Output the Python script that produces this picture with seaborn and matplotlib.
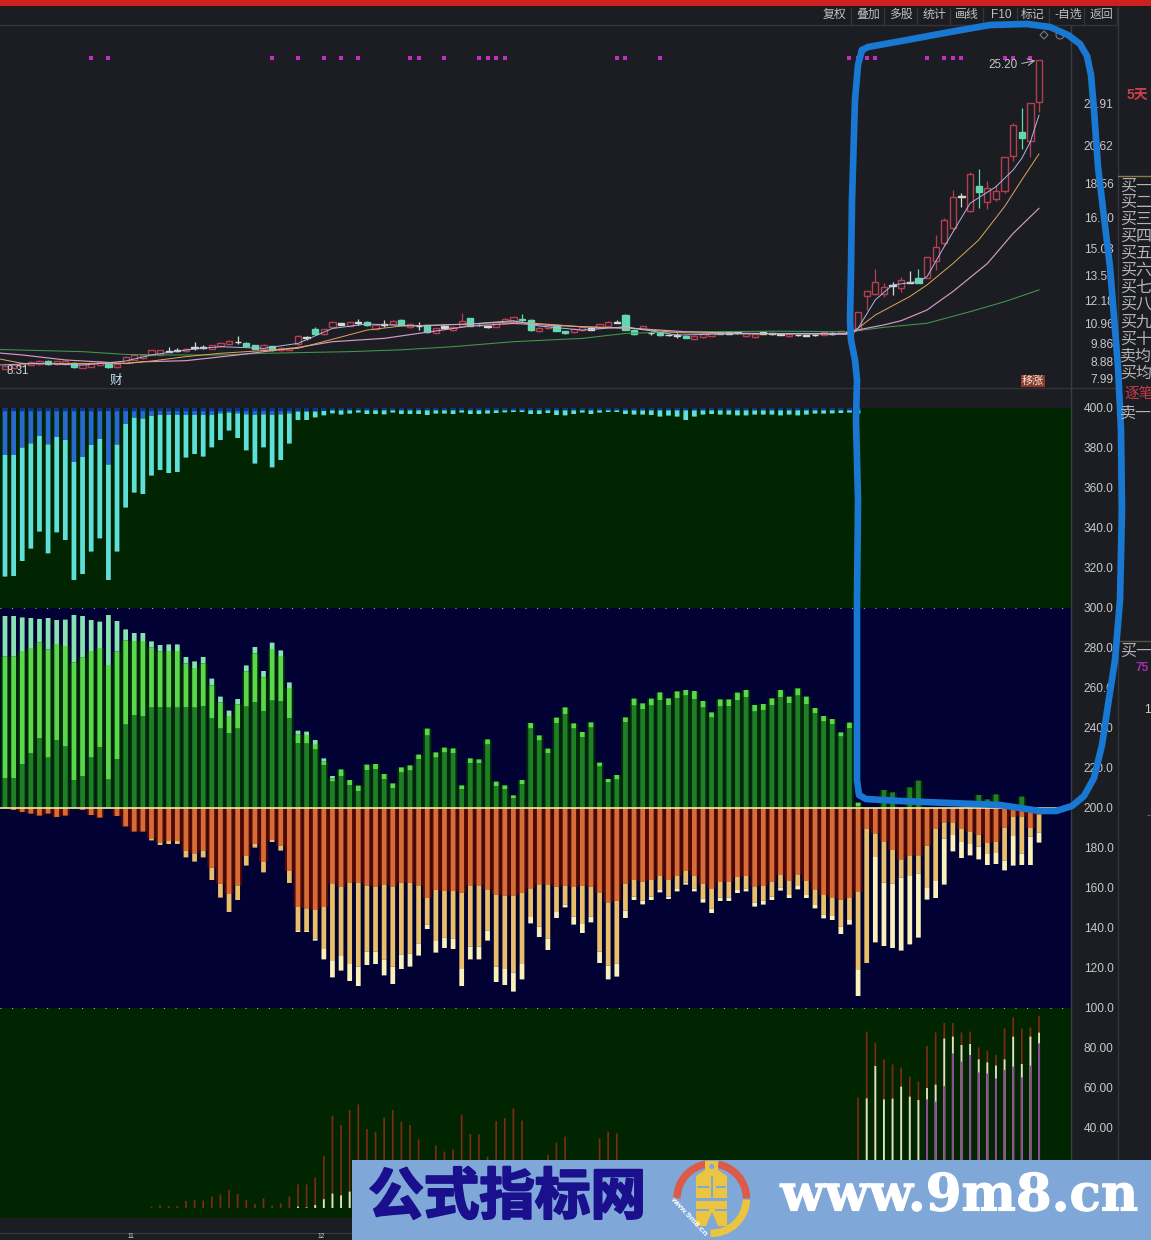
import matplotlib
matplotlib.use("Agg")
import numpy as np
import seaborn as sns
import matplotlib.pyplot as plt
from matplotlib.patches import Rectangle, Wedge, Polygon, Circle
import matplotlib.patheffects as pe

# ---------- data ----------
n_bars = 121
idx = np.arange(n_bars)

# price panel: early small candles (mid price, half body, kind)
early_mid = [8.57,8.60,8.73,8.78,8.82,8.82,8.82,8.82,8.69,8.64,8.69,8.78,8.66,8.66,8.97,9.11,9.15,9.38,9.38,9.44,
 9.47,9.51,9.63,9.63,9.67,9.81,9.91,9.94,9.81,9.67,9.69,9.60,9.56,9.58,10.05,10.18,10.50,10.50,10.90,10.92,
 10.92,10.99,10.95,10.77,10.90,10.99,11.01,10.85,10.81,10.66,10.57,10.76,10.68,10.95,11.03,10.86,10.77,10.90,11.08,11.15,
 11.17,10.86,10.63,10.77,10.70,10.47,10.56,10.68,10.66,10.81,10.92,11.01,11.01,10.48,10.72,10.43,10.36,10.32,10.30,10.23,
 10.18,10.29,10.39,10.45,10.43,10.45,10.34,10.29,10.43,10.39,10.36,10.32,10.32,10.30,10.32,10.41,10.41,10.48,10.48]
early_half = [.08,.08,.08,.08,.09,.09,.08,.09,.12,.09,
 .09,.08,.1,.08,.16,.14,.09,.12,.12,.02,
 .02,.07,.02,.02,.09,.09,.1,.02,.1,.1,
 .1,.1,.06,.06,.22,.02,.14,.14,.13,.03,
 .1,.03,.1,.1,.03,.09,.13,.09,.02,.2,
 .12,.06,.1,.13,.2,.02,.02,.12,.09,.13,
 .04,.29,.09,.09,.15,.05,.09,.1,.06,.1,
 .12,.02,.41,.12,.08,.02,.05,.02,.02,.05,
 .1,.1,.12,.05,.03,.03,.08,.08,.04,.03,
 .02,.07,.02,.02,.02,.07,.03,.07,.03]
early_wick_up = {19:.2,20:.12,22:.29,23:.15,27:.3,35:.05,36:.1,41:.15,44:.2,48:.2,53:.45,58:.1,60:.25,71:.1,75:.1,78:.1}
early_wick_dn = {22:.1,27:.08,35:.1,41:.1,44:.1,48:.2,60:.12,75:.1,78:.1}
candle_kinds = ("uuuuuduudu" "uuduuuuuux" "xuxxuuuxdd" "uduuuxduux" "uxduxuduxd"
                "uxuudxxuuu" "dduudduuxu" "uxdduxdxxd" "uuudxxuuxx" "xuxxxuxux"
                "uuuuxuxduuuuxuduuuuduu")
# price panel: the last 22 candles
late_body_top = [11.59,12.73,13.22,12.95,13.04,13.31,13.20,13.40,14.58,15.08,16.57,17.79,17.87,19.06,18.41,18.28,18.16,19.96,21.70,21.32,22.93,25.25]
late_body_bot = [10.60,12.44,12.55,12.55,12.98,12.86,13.15,13.17,13.44,14.36,15.30,16.15,17.81,17.07,18.10,17.52,17.69,18.16,20.06,20.99,20.85,22.97]
late_high = [11.59,12.73,13.89,13.17,13.22,13.49,13.82,13.89,14.58,15.75,16.66,18.19,18.05,19.15,19.31,18.70,18.46,19.96,21.85,22.62,22.93,25.25]
late_low = [10.60,11.68,12.50,12.37,12.50,12.68,13.13,13.13,13.44,13.85,15.17,16.02,17.25,17.02,17.20,17.14,17.61,18.05,19.77,20.40,19.96,22.41]

# moving averages, read at the bars listed
ma60_i = [-1,9,14,19,25,30,40,46,52,59,67,72,79,90,98,102,107,112,116,120]
ma60_v = [9.54,9.42,9.27,9.24,9.24,9.33,9.42,9.52,9.69,9.96,10.14,10.41,10.50,10.53,10.50,10.74,10.96,11.59,12.13,12.77]
ma20_i = [-1,2,7,14,16,21,27,34,38,44,48,54,59,67,73,79,86,98,99,102,104,107,110,114,117,120]
ma20_v = [9.36,9.24,8.97,8.78,8.87,8.93,9.24,9.65,9.96,10.14,10.41,10.81,10.95,10.77,10.68,10.50,10.41,10.36,10.60,10.87,11.10,11.68,12.68,14.20,15.84,17.20]
ma10_i = [-1,2,14,17,21,25,34,38,42,46,54,59,67,73,78,86,98,99,101,105,107,110,113,116,118,120]
ma10_v = [9.06,8.78,8.78,8.91,9.15,9.33,9.60,10.09,10.59,10.81,10.92,11.04,10.77,10.68,10.45,10.38,10.41,10.69,11.41,12.41,13.04,14.20,15.48,17.29,18.74,20.15]
ma5_i = [-1,4,9,14,17,21,25,30,34,38,42,48,54,59,62,67,72,78,86,98,99,101,103,106,107,109,112,115,117,118,119,120]
ma5_v = [8.69,8.78,8.69,8.91,9.24,9.51,9.69,9.60,9.87,10.68,10.92,10.81,10.92,11.10,10.81,10.59,10.77,10.32,10.41,10.41,10.69,12.23,13.04,13.22,13.49,15.12,17.47,18.37,19.28,19.91,20.81,22.26]
signal_i = [10,12,31,34,37,39,41,47,48,51,55,56,57,58,71,72,76,98,99,100,101,107,109,110,111,116,117,119]
signal_level = 25.35

# upper indicator (hangs from 400)
blue_end = [376.5,376.5,380.2,382.3,386,381.8,385.5,384,373,375.5,381.5,384.5,371.7,381.7,392,395.2,394.7,396,396.5,396.5,
 396.5,396.5,396.5,396.5,396.5,397.3,397.7,397.3,396.8,396.5,396.8,396.5,396.8,397.3,398.2,398.2,398.2,398.5]
cyan_end = [315.7,316,323.5,329.7,338.2,327.3,337.8,334,314,317,328.2,334.8,314,328.2,350.2,357.7,357,366.2,369,367.5,
 368,375.2,377,375.7,380.3,384,388.7,385,378.8,372.2,380.3,370.3,374,382.2,394,394,395.3,396.3,397.3,396.7,397.2,
 397.7,397,397,396.8,397.7,397,397,397,396.5,397.2,397.2,397,397.7,397,397,397.2,397.5,397.8,398,398,
 397,397,397.5,396.5,396.3,397,397.7,397,397.7,398,398,397,396.7,396.7,396.5,395.7,396.2,395.7,394,395.7,
 396.7,397,396.7,396.7,396.3,396.3,396.7,396.7,396.7,396.3,396.7,396.3,396.7,397.2,397.2,397.3,397.5,397.7,397.3]

# middle indicator, upper half (green)
green_top = [296,296,295.3,295,294.5,295,294,294.2,296.5,296,294,293.2,296.5,293.5,289.3,287.5,287.5,283.3,281.5,281.8,
 281.8,275.5,273.3,275.5,264.7,255.7,248.7,254.5,271.3,280.5,268.5,282.7,278.8,262.8,238.7,238.2,234,224.8,216,
 219.3,214,211.2,221.7,222,217,212.3,220.3,221.3,226.7,239.7,227.8,230.2,229.8,211.3,224.8,224.3,234.3,213.2,211.3,206.3,
 214,242.5,236.3,229.7,245.2,250.3,242.3,238,242.8,222.7,214.5,216.5,245.3,254.7,252.3,254.7,257.8,254.8,258.3,259,
 258.5,253.5,247.8,254.3,254.3,257.7,259,251.5,252,254.8,259,255.7,259.8,255.7,250,246,244.5,237.8,242.7,202.7,
 200,200,209,207.8,200,210.3,213.7,200,200,200,200,200,200,206.5,204.3,206.8,200,200,205.7,200,200]
mint_end = [275.7,275.7,278.5,280,282.7,279.3,282,281,272.7,275.2,278.5,280,271.5,278.2,283.8,283.5,283.5,280.2,278.2,278.5,
 278.5,272.3,270,272.3,261.3,252.8,246,251.8,268.2,277.3,265.2,279.5,276,260,236.7,236.5,232,223.2,214.8] + green_top[39:]
bright_end = [215,215,222,227.5,235,225.2,234,230.7,214,216,225.2,230.3,214.2,224.5,241.7,246.5,246,250.2,250.5,250.2,
 250.2,250.5,250.2,250.8,245,239.7,237.3,239.7,250.7,253,248.5,253.7,253.5,245,232.5,232.2,229.2,221.3,213.2,
 216,211.3,208.5,219,219.3,214.3,209.8,217.7,218.7,224.3,236.2,225.2,227.7,227.3,209.3,222.3,222.3,231.7,210.8,209.5,205,
 212,239.7,233.7,227.3,242.5,246.8,239.7,235.5,240.2,220.7,212.7,214.2,243,251.2,249.3,251.2,254,251.5,254.8,256.2,
 254.5,250.2,245.2,250.7,251,254,255.3,248.2,249,251.5,255.3,252.3,256.2,252,247.3,243.2,242,235.7,239.8,201] + green_top[100:]

# middle indicator, lower half (orange)
orange_end = [199.8,199,198,197.2,196.2,197.2,195.5,196.2,199.8,199,196.5,195.2,199.8,196,190.8,188.2,188.2,184.8,182.8,183.5,
 183.5,178.7,177.3,178.7,170.2,162.2,157,161.3,176,182,173.2,184,181,168.5,150.5,149.8,149,150.5,162.3,
 160.7,162.7,162.7,161.2,160.7,161.8,160.8,162.7,162.7,161.3,155,159,158.5,158.5,157.7,161.3,161.3,159.3,156.7,156.2,156.2,
 157.5,159.8,161.8,161.8,160.7,161.2,160.5,161.2,160.7,157.5,152.8,153.7,162.2,164,163.2,164,166,164,166,168.5,
 166.2,162.2,159.8,163,163,165.5,166,160.8,161.2,163.2,166.5,163.5,166.8,163.5,159.3,156.5,155.3,154.2,155,158,
 189.5,187.3,183.3,179,174.3,176.3,176.3,181.2,189.7,192.8,192.8,189.5,188,186.7,182.5,183,190.2,195.7,195.7,190,196.5]
yellow_end = orange_end[:17] + [183.8,181.5,182,182,175.3,173.2,175.3,164,155.2,148,154,171.2,180.2,167.8,183,178.7,162.5,138.5,138.5,134.8,129.5,123.5,
 126,122,120.7,128.2,128.2,124.3,120.7,126.8,127.3,132.3,141.8,133.5,135.3,134.8,119.5,130.7,130.7,138.7,120.7,119.5,117.8,
 122,145.5,140.7,134.8,148,151.8,145.7,142,145.7,128.2,121.2,122.3,148.7,155.7,153.7,155.7,159,155.7,159.5,162.7,
 159.8,154.8,149.8,155.3,155.3,159,159.8,152.8,153.7,155.7,160.3,156.5,161,156.5,151.5,146.8,146,140.7,144,119,
 122.5,175.5,162.7,162.2,165.2,166,167.3,160,163.5,184.7,186.5,183,182,180.7,177,177.5,173.8,186,177.3,185.7,187.7]
pale_end = yellow_end[:34] + [138,138,133.7,124.3,115.3,
 118.7,113.5,111,121.5,122,116.3,112,119.5,120.7,126.2,139.5,127.7,130,129.5,111,124.3,124.3,133.7,113,111.5,108.2,
 114.3,142.3,135.5,129,145,150.3,141.7,137.5,142.8,122.5,114.3,115.7,145,154,151.8,154,157.8,154.5,158.3,161.7,
 158.3,152.7,147.5,153.5,153.5,157.5,158.3,150.7,151.7,154,158.7,155,159.3,155,149.8,144.8,144,137,141.7,106,
 122.5,132.8,131,130,128.7,131.8,135.2,154.2,155,161.7,178.3,175,176.3,174.3,171.5,172,168.8,171.2,171.5,171.5,182.7]

# lower indicator (thin lines from 0)
red_top = [0]*17 + [.7,1.5,1,1,3.5,4,3.7,5.7,6.8,9,7,4,2,4.8,1.3,2.3,5.7,11.8,11.8,15.2,26,46.2,41.5,49,51.8,39.5,38.2,45.2,49,43.2,41.5,34.3,
 22,31.3,28.2,29.3,46.7,37,36.8,25.7,43.5,45,49.7,43.7,22,20,26.5,32.7,35.7,20,18,20,34.8,38.2,37.3,
 18,16,15,14,15,16,18,17,15,14,13,14,15,16,14,12,13,15,16,14,12,11,13,14,12,11,12,
 55.2,88.2,82.7,74.3,71.8,70.2,65.7,63.2,81,87.8,92.5,92.5,87.8,88.2,80.3,78.7,76.5,89.8,95.3,89.7,90.3,96]
pale_top = [0]*34 + [.7,.3,1.5,4.4,7.2,6.3,8.2,6,5,7,6,5,6,5,4,5,4,4,5,6,5,4,4,5,5,6,5,5,4,4,4,5,4,4,4,4,5,4,4,4,3,3,4,4,3,3,3,4,4,3,3,3,3,3,3,3,3,3,3,3,3,3,3,3,3,0,
 54.8,71,54.3,54.7,60.7,55.7,54,60,61.7,84.7,85.7,81.5,82,74.3,72.8,71.2,74.3,85.7,72,85.7,87.7]
purple_top = [0]*107 + [54.3,53.2,61,77.3,73.2,76.5,67.8,67.3,64.8,69,70.7,65.3,71.2,82.3]

price_ticks = [22.91,20.62,18.56,16.70,15.03,13.53,12.18,10.96,9.86,8.88,7.99]
price_tick_labels = ["22.91","20.62","18.56","16.70","15.03","13.53","12.18","10.96","9.86","8.88","7.99"]
ind_ticks = [400,380,360,340,320,300,280,260,240,220,200,180,160,140,120,100,80,60,40]
ind_tick_labels = ["400.0","380.0","360.0","340.0","320.0","300.0","280.0","260.0","240.0","220.0","200.0","180.0","160.0","140.0","120.0","100.0","80.00","60.00","40.00"]
toolbar_labels = ["复权","叠加","多股","统计","画线","F10","标记","-自选","返回"]
toolbar_x = [835,868,901,934,967,1001,1033,1068,1101]
side_labels = ["买一","买二","买三","买四","买五","买六","买七","买八","买九","买十","卖均","买均"]
side_y = [186,202,219,236,253,270,287,304,322,339,356,373]
stroke_x = [862,868,907,950,990,1027,1050,1068,1080,1087,1091,1094,1098,1110,1118,1121,1122,1120,1115,1108,1102,1094,1084,1072,1056,1040,1000,950,900,866,859,857,857,858,856,857,855,851,850,851,852,855,858,862]
stroke_y = [50,47,40,32,25,24,27,35,44,56,75,110,167,267,367,430,510,600,660,705,745,778,796,806,811,811,805,803,801,799,795,780,600,500,420,380,360,340,320,270,200,100,65,50]

assert len(early_mid) == 99 and len(early_half) == 99 and len(candle_kinds) == 121
assert len(cyan_end) == 100, len(cyan_end)
for name, arr in dict(gt=green_top, me=mint_end, be=bright_end, oe=orange_end, ye=yellow_end, pe=pale_end,
                      rt=red_top, pt=pale_top, pu=purple_top).items():
    assert len(arr) == 121, (name, len(arr))

# ---------- style ----------
sns.set_theme(style="dark")
plt.rcParams["font.family"] = ["Liberation Sans", "Noto Sans CJK SC", "DejaVu Sans"]
BG = "#1c1d22"
DARK_GREEN = "#012401"
NAVY = "#010133"
W, H = 1151, 1240
fig = plt.figure(figsize=(W / 100, H / 100), dpi=100, facecolor=BG)

def px_axes(x0, y0, x1, y1, **kw):
    return fig.add_axes([x0 / W, 1 - y1 / H, (x1 - x0) / W, (y1 - y0) / H], **kw)

spacing = 8.617
xlim = (-5 / spacing, (1071 - 5) / spacing)

def bars(ax, x, top, bottom, color, width=0.55, **kw):
    top = np.asarray(top, float); bottom = np.asarray(bottom, float)
    sns.barplot(x=x, y=top - bottom, bottom=bottom, color=color, width=width, saturation=1,
                native_scale=True, errorbar=None, legend=False, linewidth=0, ax=ax, **kw)

def style_axis(ax, ticks, labels):
    ax.set_facecolor(BG)
    ax.set_xlim(*xlim)
    ax.set_xticks([])
    ax.set_xlabel(""); ax.set_ylabel("")
    ax.yaxis.tick_right()
    ax.set_yticks(ticks)
    ax.set_yticklabels(labels, ha="right", color="#c8c8c8", fontsize=8.6)
    ax.tick_params(axis="y", length=0, pad=30.5)
    for s in ax.spines.values():
        s.set_visible(False)
    ax.grid(False)

# ---------- price panel ----------
ax_p = px_axes(0, 25, 1071, 388)
ax_p.set_facecolor(BG)
UP, DOWN, DOJI = "#b4404f", "#62d8b0", "#d4dcd0"
early_mid_a = np.array(early_mid); early_half_a = np.array(early_half)
body_hi = np.r_[early_mid_a + early_half_a, late_body_top]
body_lo = np.r_[early_mid_a - early_half_a, late_body_bot]
wick_hi = np.r_[[early_mid[i] + early_half[i] + early_wick_up.get(i, .03) for i in range(99)], late_high]
wick_lo = np.r_[[early_mid[i] - early_half[i] - early_wick_dn.get(i, .03) for i in range(99)], late_low]
col_of = {"u": UP, "d": DOWN, "x": DOJI}
ax_p.vlines(idx, wick_lo, wick_hi, colors=[col_of[k] for k in candle_kinds], linewidth=0.9, zorder=1.5)
n0 = len(ax_p.patches)
bars(ax_p, idx, body_hi, body_lo, BG, width=0.72)
for patch, k in zip(ax_p.patches[n0:], candle_kinds):
    patch.set_zorder(2)
    patch.set_edgecolor(col_of[k]); patch.set_linewidth(1.0)
    patch.set_facecolor(BG if k == "u" else col_of[k])
for xs, ys, c, lw in [(ma60_i, ma60_v, "#3f9a4c", 0.75), (ma20_i, ma20_v, "#d59ac8", 0.85),
                      (ma10_i, ma10_v, "#dfa658", 0.7), (ma5_i, ma5_v, "#aeb6e8", 0.7)]:
    sns.lineplot(x=xs, y=ys, color=c, linewidth=lw, errorbar=None, legend=False, ax=ax_p, zorder=3)
sns.scatterplot(x=signal_i, y=[signal_level] * len(signal_i), color="#c02fc0", marker="s", s=5,
                linewidth=0, legend=False, ax=ax_p, zorder=3)
style_axis(ax_p, price_ticks, price_tick_labels)
ax_p.set_ylim(7.99 + (378 - 388) / 18.43, 7.99 + (378 - 25) / 18.43)

# ---------- indicator panels ----------
ax_i = px_axes(0, 388, 1071, 1218)
ax_i.set_facecolor(BG)
ax_i.axhspan(300, 400, color=DARK_GREEN, lw=0, zorder=0)
ax_i.axhspan(100, 300, color=NAVY, lw=0, zorder=0)
ax_i.axhspan(-5, 100, color=DARK_GREEN, lw=0, zorder=0)

i100 = np.arange(100)
bars(ax_i, i100, [400] * 100, blue_end + [398.8] * 62, "#2a68cf")
bars(ax_i, i100, [400] * 38 + [400] * 62, [398.4] * 38 + [398.8] * 62, "#0f2f9c")
bars(ax_i, i100, blue_end + [398.8] * 62, cyan_end, "#5ee0d8")

bars(ax_i, idx, mint_end, [200] * 121, "#03290a", width=1.0)
bars(ax_i, idx, orange_end, [200] * 121, "#520a04", width=1.0)
bars(ax_i, idx, green_top, mint_end, "#86e2b0")
bars(ax_i, idx, mint_end, bright_end, "#58d84a")
bars(ax_i, idx, bright_end, [200] * 121, "#1f7f26")
bars(ax_i, idx, orange_end, [200] * 121, "#d66c38")
bars(ax_i, idx, yellow_end, orange_end, "#e8bf68")
bars(ax_i, idx, pale_end, yellow_end, "#f8f1bb")

bars(ax_i, idx, red_top, [0] * 121, "#7c2c10", width=0.2)
bars(ax_i, idx, pale_top, [0] * 121, "#d4e4bc", width=0.22)
bars(ax_i, idx, purple_top, [0] * 121, "#8a4c92", width=0.24)
for patch in ax_i.patches:
    patch.set_snap(False)

style_axis(ax_i, ind_ticks, ind_tick_labels)
ax_i.set_facecolor(BG)
ax_i.set_ylim(200 + (808 - 1218) / 2, 200 + (808 - 388) / 2)
ax_i.hlines([300, 100], *xlim, colors="#c8c8c8", linewidth=0.7, linestyles=[(0, (1, 11))], zorder=4)
ax_i.hlines([200], *xlim, colors="#f2eaa8", linewidth=1.2, zorder=4)

# ---------- overlay in pixel space ----------
ov = fig.add_axes([0, 0, 1, 1], zorder=5)
ov.set_xlim(0, W); ov.set_ylim(H, 0); ov.axis("off"); ov.patch.set_alpha(0)

ov.add_patch(Rectangle((0, 0), W, 6, color="#cf2020", lw=0))
ov.plot([0, 1118], [24.5, 24.5], color="#34353a", lw=1)
ov.plot([0, 1118], [388, 388], color="#34353a", lw=1)
ov.plot([1071, 1071], [25, 1218], color="#3c3d42", lw=1)
ov.plot([1118, 1118], [6, 1240], color="#34353a", lw=1)
ov.plot([0, 1118], [1233, 1233], color="#3c3d42", lw=0.8)
ov.plot([1118, W], [176, 176], color="#8a7a50", lw=1)
ov.plot([1118, W], [641, 641], color="#54534a", lw=1)
for x, s in zip(toolbar_x, toolbar_labels):
    ov.text(x, 15, s, color="#c0c0c0", fontsize=8.6, ha="center", va="center")
    ov.plot([x + 16.5, x + 16.5], [8, 24], color="#34353a", lw=1)
for y, s in zip(side_y, side_labels):
    ov.text(1120, y, s, color="#b4b4b4", fontsize=11.5, ha="left", va="center")
ov.text(1127, 95, "5天", color="#c8404c", fontsize=10, fontweight="bold", ha="left", va="center")
ov.text(1124, 394, "逐笔", color="#c83c48", fontsize=10.5, ha="left", va="center")
ov.text(1120, 413, "卖一", color="#b4b4b4", fontsize=11.5, ha="left", va="center")
ov.text(1120, 651, "买一", color="#b4b4b4", fontsize=11.5, ha="left", va="center")
ov.text(1136, 668, "75", color="#a030a8", fontsize=8.6, fontweight="bold", ha="left", va="center")
ov.text(1144, 710, "1", color="#d0d0d0", fontsize=8.6, ha="left", va="center")
ov.text(1146, 813, "..", color="#c0c0c0", fontsize=7, ha="left", va="center")

ov.text(1003, 64.5, "25.20", color="#c8c8c8", fontsize=8.4, ha="center", va="center")
ov.annotate("", xy=(1038, 60), xytext=(1019, 64), arrowprops=dict(arrowstyle="->", color="#c0c0c0", lw=0.7))
ov.text(18, 371, "8.31", color="#c4d4d4", fontsize=8.4, ha="center", va="center")
ov.text(116, 381, "财", color="#c8e4f4", fontsize=9, ha="center", va="center")
ov.text(1033, 381, "移涨", color="#f0e0d0", fontsize=8, ha="center", va="center",
        bbox=dict(boxstyle="square,pad=0.12", fc="#8a3a30", ec="none"))
ov.add_patch(Polygon([(1044, 31), (1048, 35), (1044, 39), (1040, 35)], fc="none", ec="#7a7a7a", lw=0.8))
ov.add_patch(Circle((1060, 35), 4, fc="none", ec="#7a7a7a", lw=0.8))
ov.text(131, 1239.5, "11", color="#d0d0d0", fontsize=4.8, ha="center", va="bottom")
ov.text(321, 1239.5, "12", color="#d0d0d0", fontsize=4.8, ha="center", va="bottom")

# hand-drawn stroke
ov.plot(stroke_x, stroke_y, color="#1878d2", lw=4.8, solid_capstyle="round", solid_joinstyle="round")

# watermark banner
ov.add_patch(Rectangle((352, 1159.5), W - 352, 81, color="#7fa8d8", lw=0, zorder=6))
ov.text(507, 1198, "公式指标网", color="#1a0f8c", fontsize=40, fontweight="bold", ha="center", va="center",
        family=["Noto Sans CJK SC"], zorder=7,
        path_effects=[pe.withStroke(linewidth=1.6, foreground="#1a0f8c")])
ov.text(959, 1197, "www.9m8.cn", color="#ffffff", fontsize=37, fontweight="bold", ha="center", va="center",
        family=["DejaVu Serif"], zorder=7,
        path_effects=[pe.withStroke(linewidth=0.8, foreground="#ffffff")])
cx, cy = 711.7, 1198.5
ov.add_patch(Wedge((cx, cy), 38.5, 180, 262, width=7.5, fc="#dc5a48", lw=0, zorder=7))
ov.add_patch(Wedge((cx, cy), 38.5, 281, 360, width=7.5, fc="#dc5a48", lw=0, zorder=7))
ov.add_patch(Wedge((cx, cy), 38.5, 2, 92, width=7.5, fc="#ecc540", lw=0, zorder=7))
ov.add_patch(Rectangle((705, 1161), 13, 11, fc="#ecc540", lw=0, zorder=7))
ov.add_patch(Polygon([(705, 1170), (718, 1170), (727, 1176), (727, 1198), (696, 1198), (696, 1176)], fc="#ecc540", lw=0, zorder=7))
ov.add_patch(Polygon([(696, 1201), (727, 1201), (727, 1226), (718, 1226), (712, 1212), (706, 1226), (696, 1226)], fc="#ecc540", lw=0, zorder=7))
ov.add_patch(Circle((711.7, 1166.5), 2.6, fc="#7fa8d8", lw=0, zorder=8))
ov.add_patch(Rectangle((697, 1186), 12, 1.6, fc="#7fa8d8", lw=0, zorder=8))
ov.add_patch(Rectangle((716, 1186), 10, 1.6, fc="#7fa8d8", lw=0, zorder=8))
ov.add_patch(Rectangle((711, 1176), 1.6, 22, fc="#7fa8d8", lw=0, zorder=8))
ov.add_patch(Rectangle((696, 1209), 13, 1.6, fc="#7fa8d8", lw=0, zorder=8))
ov.add_patch(Rectangle((715, 1209), 12, 1.6, fc="#7fa8d8", lw=0, zorder=8))
ov.text(688, 1217, "www.9m8.cn", color="#ffffff", fontsize=6, fontweight="bold", rotation=-47,
        ha="center", va="center", rotation_mode="anchor", zorder=8)

fig.savefig("out.png", dpi=100, facecolor=BG)
